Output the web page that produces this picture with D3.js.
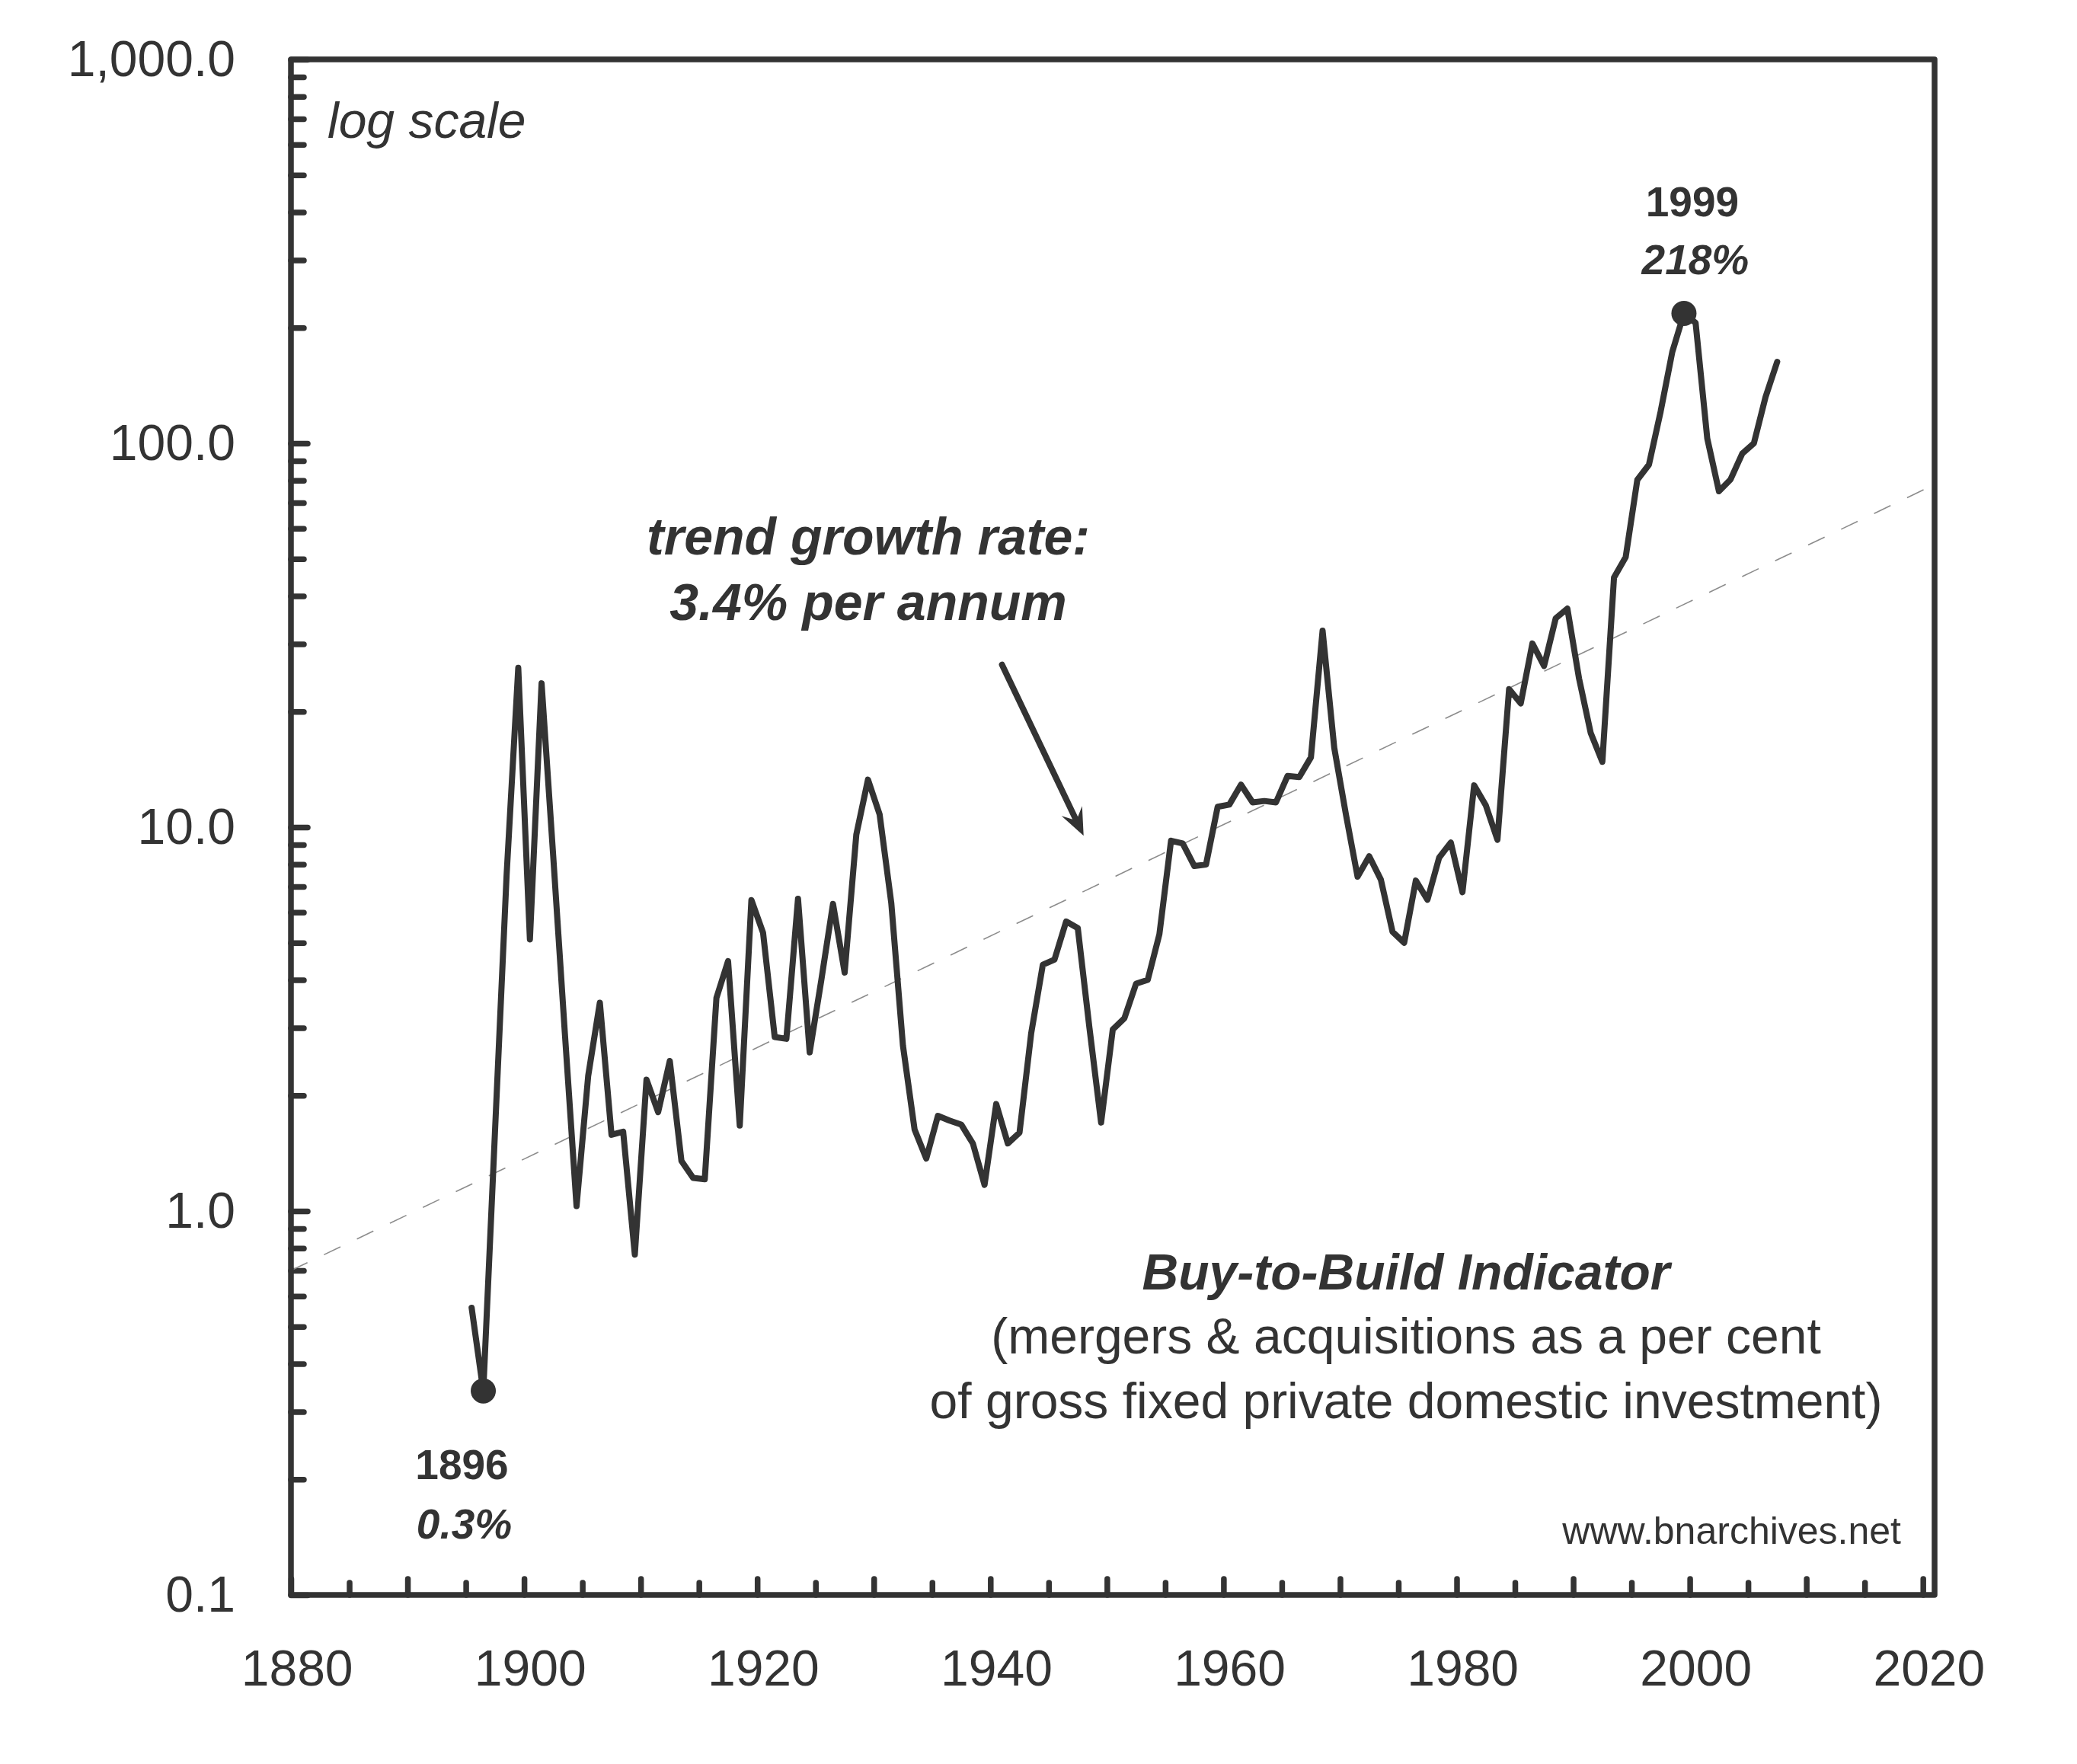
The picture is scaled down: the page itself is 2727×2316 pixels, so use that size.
<!DOCTYPE html>
<html>
<head>
<meta charset="utf-8">
<title>Buy-to-Build Indicator</title>
<script src="https://cdn.jsdelivr.net/npm/d3@7"></script>
<style>
  html, body { margin: 0; padding: 0; background: #ffffff; }
  svg { display: block; font-family: "Liberation Sans", Arial, Helvetica, sans-serif; }
</style>
</head>
<body>
<svg id="chart"></svg>
<script>
// Buy-to-Build indicator, yearly values (% of gross fixed private domestic investment)
const years = d3.range(1895, 2008);
const buyToBuild = [
  0.56, 0.34, 1.6, 7.5, 26.0, 5.1, 23.7, 8.4, 2.9, 1.03,      // 1895-1904
  2.25, 3.49, 1.58, 1.61, 0.77, 2.20, 1.81, 2.46, 1.35, 1.22,  // 1905-1914
  1.21, 3.59, 4.48, 1.67, 6.46, 5.31, 2.84, 2.81, 6.51, 2.59,  // 1915-1924
  4.0, 6.31, 4.18, 9.56, 13.3, 10.8, 6.35, 2.7, 1.63, 1.37,    // 1925-1934
  1.77, 1.72, 1.68, 1.50, 1.17, 1.90, 1.50, 1.60, 2.90, 4.38,  // 1935-1944
  4.52, 5.68, 5.46, 3.0, 1.70, 2.97, 3.18, 3.91, 4.00, 5.26,   // 1945-1954
  9.22, 9.07, 7.92, 7.99, 11.3, 11.45, 12.9, 11.6, 11.7, 11.6, // 1955-1964
  13.6, 13.5, 15.2, 32.5, 16.1, 10.8, 7.43, 8.4, 7.3, 5.34,    // 1965-1974
  5.0, 7.26, 6.47, 8.33, 9.12, 6.77, 12.85, 11.4, 9.27, 22.9,  // 1975-1984
  21.0, 30.1, 26.3, 35.0, 37.1, 24.4, 17.6, 14.8, 44.7, 50.5,  // 1985-1994
  80.3, 88, 121, 173, 218, 206, 103, 75, 80.5, 94,             // 1995-2004
  100, 132, 163                                                // 2005-2007
];

// axis ticks
const yTickLabels = [0.1, 1, 10, 100, 1000];
const xTickLabels = d3.range(1880, 2021, 20);
const xMajorTicks = d3.range(1880, 2021, 10);
const xMinorTicks = d3.range(1885, 2021, 10);

// marked extremes
const highlightYears = [1896, 1999];
const highlightPct = ['0.3%', '218%'];

// trend line: 3.4% per annum
const trendStart = 0.70;   // value at 1880
const trendEnd = 2020.5;
const trendRate = 0.034;

// arrow pointing at the trend line (year, value)
const arrowFrom = [1941, 26.5];
const arrowTo = [1948, 9.5];

const data = years.map((year, i) => ({ year, value: buyToBuild[i] }));

// Dimensions and margins
const width = 2727;
const height = 2316;
const margin = { top: 78, right: 187, bottom: 222, left: 382 };
const w = width - margin.left - margin.right;
const h = height - margin.top - margin.bottom;
const ink = '#333333';

const svg = d3.select('#chart')
  .attr('width', width)
  .attr('height', height)
  .attr('viewBox', `0 0 ${width} ${height}`);

svg.append('rect').attr('width', width).attr('height', height).attr('fill', '#ffffff');

const g = svg.append('g')
  .attr('transform', `translate(${margin.left},${margin.top})`);

// Scales
const xScale = d3.scaleLinear().domain([1880, 2021]).range([0, w]);
const yScale = d3.scaleLog().domain([0.1, 1000]).range([h, 0]);

// values sit in the middle of their year
const xOf = (year) => xScale(year + 0.5);

const styleAxis = (sel) => {
  sel.select('.domain').remove();
  sel.selectAll('.tick line')
    .attr('stroke', ink)
    .attr('stroke-width', 7.5)
    .attr('stroke-linecap', 'round');
  sel.selectAll('.tick text')
    .attr('fill', ink)
    .attr('font-size', 66);
  sel.attr('font-family', null).attr('font-size', null);
};

// Y axis: minor ticks inside the frame, then decades with labels
const minorY = yTickLabels.slice(0, -1).flatMap((d) => d3.range(2, 10).map((k) => k * d));

g.append('g')
  .call(d3.axisLeft(yScale).tickValues(minorY).tickSizeInner(-17).tickSizeOuter(0).tickFormat(''))
  .call(styleAxis);

g.append('g')
  .call(d3.axisLeft(yScale)
    .tickValues(yTickLabels)
    .tickSizeInner(-22)
    .tickSizeOuter(0)
    .tickPadding(73)
    .tickFormat(d3.format(',.1f')))
  .call(styleAxis);

// X axis: 5-year minor ticks, decade ticks, labels every 20 years
g.append('g')
  .attr('transform', `translate(0,${h})`)
  .call(d3.axisBottom(xScale).tickValues(xMinorTicks).tickSizeInner(-16).tickSizeOuter(0).tickFormat(''))
  .call(styleAxis);

const xAxisGroup = g.append('g')
  .attr('transform', `translate(0,${h})`)
  .call(d3.axisBottom(xScale)
    .tickValues(xMajorTicks)
    .tickSizeInner(-21)
    .tickSizeOuter(0)
    .tickPadding(72)
    .tickFormat((d) => (xTickLabels.includes(d) ? d3.format('d')(d) : '')))
  .call(styleAxis);

xAxisGroup.selectAll('.tick text').attr('dx', xOf(1880) - xScale(1880));

// Trend line (straight on a log scale)
const trend = [
  { year: 1880, value: trendStart },
  { year: trendEnd, value: trendStart * Math.pow(1 + trendRate, trendEnd - 1880) }
];

g.append('path')
  .datum(trend)
  .attr('fill', 'none')
  .attr('stroke', '#8c8c8c')
  .attr('stroke-width', 1.6)
  .attr('stroke-dasharray', '24 24')
  .attr('d', d3.line().x((d) => xScale(d.year)).y((d) => yScale(d.value)));

// Frame
g.append('rect')
  .attr('width', w)
  .attr('height', h)
  .attr('fill', 'none')
  .attr('stroke', ink)
  .attr('stroke-width', 7.5)
  .attr('stroke-linejoin', 'round');

// Indicator line
g.append('path')
  .datum(data)
  .attr('fill', 'none')
  .attr('stroke', ink)
  .attr('stroke-width', 8)
  .attr('stroke-linejoin', 'round')
  .attr('stroke-linecap', 'round')
  .attr('d', d3.line().x((d) => xOf(d.year)).y((d) => yScale(d.value)));

// Low and high points
const marked = data.filter((d) => highlightYears.includes(d.year));

g.selectAll('circle.mark')
  .data(marked)
  .enter()
  .append('circle')
  .attr('class', 'mark')
  .attr('cx', (d) => xOf(d.year))
  .attr('cy', (d) => yScale(d.value))
  .attr('r', 16.5)
  .attr('fill', ink);

marked.forEach((d, i) => {
  const below = i === 0;
  const cx = xOf(d.year);
  const cy = yScale(d.value);
  g.append('text')
    .attr('x', cx + (below ? -28 : 11))
    .attr('y', cy + (below ? 116 : -127))
    .attr('text-anchor', 'middle')
    .attr('font-size', 55)
    .attr('font-weight', 'bold')
    .attr('fill', ink)
    .text(d.year);
  g.append('text')
    .attr('x', cx + (below ? -25 : 15))
    .attr('y', cy + (below ? 194 : -51))
    .attr('text-anchor', 'middle')
    .attr('font-size', 55)
    .attr('font-weight', 'bold')
    .attr('font-style', 'italic')
    .attr('fill', ink)
    .text(highlightPct[i]);
});

// "log scale" note
g.append('text')
  .attr('x', 48)
  .attr('y', 103)
  .attr('font-size', 66)
  .attr('font-style', 'italic')
  .attr('fill', ink)
  .text('log scale');

// Trend annotation and arrow
const trendNote = g.append('text')
  .attr('text-anchor', 'middle')
  .attr('font-size', 68)
  .attr('font-weight', 'bold')
  .attr('font-style', 'italic')
  .attr('fill', ink);
trendNote.append('tspan').attr('x', 758).attr('y', 650).text('trend growth rate:');
trendNote.append('tspan').attr('x', 758).attr('y', 736).text('3.4% per annum');

const p0 = [xScale(arrowFrom[0]), yScale(arrowFrom[1])];
const p1 = [xScale(arrowTo[0]), yScale(arrowTo[1])];
const len = Math.hypot(p1[0] - p0[0], p1[1] - p0[1]);
const ux = (p1[0] - p0[0]) / len;
const uy = (p1[1] - p0[1]) / len;
const headLen = 36;
const headHalf = 15;
const notch = 22;

g.append('line')
  .attr('x1', p0[0])
  .attr('y1', p0[1])
  .attr('x2', p1[0] - ux * notch)
  .attr('y2', p1[1] - uy * notch)
  .attr('stroke', ink)
  .attr('stroke-width', 8)
  .attr('stroke-linecap', 'round');

g.append('path')
  .attr('fill', ink)
  .attr('d', [
    `M${p1[0]},${p1[1]}`,
    `L${p1[0] - ux * headLen - uy * headHalf},${p1[1] - uy * headLen + ux * headHalf}`,
    `L${p1[0] - ux * notch},${p1[1] - uy * notch}`,
    `L${p1[0] - ux * headLen + uy * headHalf},${p1[1] - uy * headLen - ux * headHalf}`,
    'Z'
  ].join(''));

// Title block
const title = g.append('text')
  .attr('text-anchor', 'middle')
  .attr('font-size', 66)
  .attr('fill', ink);
title.append('tspan')
  .attr('x', 1464).attr('y', 1615)
  .attr('font-weight', 'bold').attr('font-style', 'italic')
  .text('Buy-to-Build Indicator');
title.append('tspan')
  .attr('x', 1464).attr('y', 1699)
  .text('(mergers & acquisitions as a per cent');
title.append('tspan')
  .attr('x', 1464).attr('y', 1784)
  .text('of gross fixed private domestic investment)');

g.append('text')
  .attr('x', 2114)
  .attr('y', 1949)
  .attr('text-anchor', 'end')
  .attr('font-size', 50)
  .attr('fill', ink)
  .text('www.bnarchives.net');
</script>
</body>
</html>
